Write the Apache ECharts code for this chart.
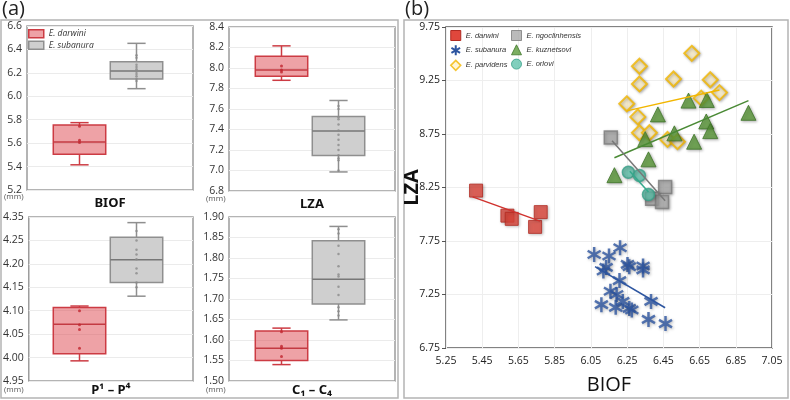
<!DOCTYPE html>
<html>
<head>
<meta charset="utf-8">
<script src="https://cdn.jsdelivr.net/npm/echarts@6/dist/echarts.min.js"></script>
<style>
html, body { margin: 0; padding: 0; background: #fff; }
#main { width: 790px; height: 400px; }
</style>
</head>
<body>
<div id="main"></div>
<script>
// ---- panel (a): box plots, [min, Q1, median, Q3, max] ----
var boxSpecies = ['E. darwini', 'E. subanura'];
var biofBox = [[5.415, 5.505, 5.61, 5.755, 5.775], [6.065, 6.148, 6.216, 6.295, 6.452]];
var lzaBox = [[7.88, 7.92, 7.98, 8.115, 8.216], [6.986, 7.147, 7.386, 7.526, 7.683]];
var pBox = [[3.993, 4.008, 4.071, 4.107, 4.110], [4.131, 4.16, 4.209, 4.257, 4.288]];
var cBox = [[1.540, 1.550, 1.580, 1.622, 1.629], [1.649, 1.688, 1.748, 1.842, 1.877]];

// individual specimens drawn inside the boxes
var biofDots = [[5.745, 5.625, 5.605], [6.35, 6.33, 6.27, 6.25, 6.23, 6.21, 6.19, 6.17, 6.15, 6.13]];
var lzaDots = [[8.02, 7.98, 7.96], [7.63, 7.6, 7.52, 7.5, 7.45, 7.39, 7.35, 7.3, 7.25, 7.2, 7.15, 7.12, 7.1, 7.0]];
var pDots = [[4.10, 4.07, 4.06, 4.02], [4.27, 4.25, 4.23, 4.22, 4.21, 4.19, 4.18, 4.16, 4.15]];
var cDots = [[1.62, 1.585, 1.58, 1.56], [1.87, 1.86, 1.83, 1.81, 1.78, 1.76, 1.755, 1.73, 1.71, 1.68, 1.67, 1.66]];

// tick labels of the P1-P4 panel, as printed
var pTicks = ['4.95', '4.00', '4.05', '4.10', '4.15', '4.20', '4.25', '4.35'];

// ---- panel (b): scatter BIOF vs LZA ----
var darwiniPts = [[5.416, 8.221], [5.589, 7.987], [5.613, 7.957], [5.742, 7.882], [5.773, 8.02]];
var subanuraPts = [[6.068, 7.624], [6.15, 7.61], [6.211, 7.687], [6.134, 7.503], [6.119, 7.47], [6.252, 7.531],
    [6.262, 7.51], [6.338, 7.516], [6.338, 7.48], [6.208, 7.38], [6.158, 7.28], [6.192, 7.25], [6.108, 7.155],
    [6.187, 7.13], [6.226, 7.185], [6.262, 7.12], [6.276, 7.105], [6.382, 7.185], [6.368, 7.017], [6.462, 6.978]];
var parvidensPts = [[6.607, 9.504], [6.318, 9.383], [6.318, 9.218], [6.506, 9.264], [6.709, 9.257], [6.76, 9.137],
    [6.659, 9.085], [6.248, 9.032], [6.309, 8.91], [6.318, 8.762], [6.373, 8.762], [6.473, 8.699], [6.528, 8.678]];
var kuznetsoviPts = [[6.589, 9.062], [6.69, 9.068], [6.42, 8.933], [6.92, 8.948], [6.687, 8.867], [6.709, 8.777],
    [6.511, 8.756], [6.35, 8.702], [6.62, 8.678], [6.368, 8.513], [6.18, 8.365]];
var ngoclinPts = [[6.16, 8.717], [6.46, 8.254], [6.388, 8.144], [6.443, 8.114]];
var orloviPts = [[6.257, 8.392], [6.318, 8.363], [6.368, 8.185]];

// regression lines (end points)
var darwiniFit = [[5.397, 8.162], [5.769, 7.936]];
var subanuraFit = [[6.073, 7.51], [6.46, 7.126]];
var parvidensFit = [[6.248, 8.966], [6.76, 9.162]];
var kuznetsoviFit = [[6.18, 8.528], [6.92, 9.062]];
var ngoclinFit = [[6.167, 8.687], [6.46, 8.126]];
var orloviFit = [[6.265, 8.401], [6.368, 8.207]];

var FONT = 'Open Sans';
var redFill = 'rgba(222,70,78,0.5)', redLine = '#cc3b43';
var grayFill = '#cfcfcf', grayLine = '#8f8f8f';
var starPath = 'path://M0,-10L0,10M-8.66,-5L8.66,5M-8.66,5L8.66,-5';

var chart = echarts.init(document.getElementById('main'));

// subplot frames and the narrower grids that hold the boxes
var panels = [
    {title: 'BIOF', left: 27, top: 26, box: biofBox, dots: biofDots, min: 5.2, max: 6.6, step: 0.2, dec: 1, gap: 7},
    {title: 'LZA', left: 229, top: 27, box: lzaBox, dots: lzaDots, min: 6.8, max: 8.4, step: 0.2, dec: 1, gap: 7},
    {title: 'P\u00b9 \u2013 P\u2074', left: 27, top: 217, box: pBox, dots: pDots, min: 3.95, max: 4.30, step: 0.05, dec: 2, gap: 3, ticks: pTicks},
    {title: 'C\u2081 \u2013 C\u2084', left: 229, top: 217, box: cBox, dots: cDots, min: 1.50, max: 1.90, step: 0.05, dec: 2, gap: 3}
];

var grids = [], xAxes = [], yAxes = [], series = [];

function boxSeries(name, gi, item, fill, stroke, mid) {
    return {
        name: name,
        type: 'custom',
        xAxisIndex: gi,
        yAxisIndex: gi,
        itemStyle: {color: fill, borderColor: stroke},
        data: [item],
        renderItem: function (params, api) {
            var i = api.value(0);
            var pMin = api.coord([i, api.value(1)]);
            var pQ1 = api.coord([i, api.value(2)]);
            var pMed = api.coord([i, api.value(3)]);
            var pQ3 = api.coord([i, api.value(4)]);
            var pMax = api.coord([i, api.value(5)]);
            var band = api.size([1, 0])[0];
            var w = band * 0.92, cap = band * 0.32;
            var x = pMed[0];
            var ls = {stroke: stroke, lineWidth: 1.5};
            return {
                type: 'group',
                children: [
                    {type: 'line', shape: {x1: x, y1: pQ3[1], x2: x, y2: pMax[1]}, style: ls},
                    {type: 'line', shape: {x1: x - cap / 2, y1: pMax[1], x2: x + cap / 2, y2: pMax[1]}, style: ls},
                    {type: 'line', shape: {x1: x, y1: pQ1[1], x2: x, y2: pMin[1]}, style: ls},
                    {type: 'line', shape: {x1: x - cap / 2, y1: pMin[1], x2: x + cap / 2, y2: pMin[1]}, style: ls},
                    {type: 'rect', shape: {x: x - w / 2, y: pQ3[1], width: w, height: pQ1[1] - pQ3[1]},
                        style: {fill: fill, stroke: stroke, lineWidth: 1.5}},
                    {type: 'line', shape: {x1: x - w / 2, y1: pMed[1], x2: x + w / 2, y2: pMed[1]},
                        style: {stroke: mid, lineWidth: 1.5}}
                ]
            };
        }
    };
}

panels.forEach(function (p, k) {
    var fi = k * 2, bi = k * 2 + 1;
    var h = 164;
    grids.push({left: p.left, top: p.top, width: 166, height: h, show: true,
        borderColor: '#9c9c9c', borderWidth: 1.5, backgroundColor: 'transparent'});
    grids.push({left: p.left + 24, top: p.top, width: 114, height: h});
    xAxes.push({gridIndex: fi, type: 'value', min: 0, max: 1,
        axisLine: {show: false}, axisTick: {show: false}, axisLabel: {show: false}, splitLine: {show: false},
        name: p.title, nameLocation: 'middle', nameGap: p.gap,
        nameTextStyle: {fontSize: 13, fontWeight: 'bold', color: '#111', fontFamily: 'Noto Sans'}});
    xAxes.push({gridIndex: bi, type: 'category', data: boxSpecies, show: false});
    yAxes.push({gridIndex: fi, type: 'value', min: p.min, max: p.max, interval: p.step,
        axisLine: {show: false}, axisTick: {show: false},
        axisLabel: {fontSize: 10.5, color: '#333', fontFamily: FONT, margin: 5,
            formatter: function (v, i) { return p.ticks ? p.ticks[i] : v.toFixed(p.dec); }},
        splitLine: {lineStyle: {color: '#ebebeb', width: 1}}});
    yAxes.push({gridIndex: bi, type: 'value', min: p.min, max: p.max, show: false});

    series.push(boxSeries('E. darwini', bi, [0].concat(p.box[0]), redFill, redLine, '#c33a42'));
    series.push(boxSeries('E. subanura', bi, [1].concat(p.box[1]), grayFill, grayLine, '#777'));
    series.push({type: 'scatter', xAxisIndex: bi, yAxisIndex: bi, symbolSize: 3, silent: true,
        itemStyle: {color: '#c0262e'}, data: p.dots[0].map(function (v) { return [0, v]; })});
    series.push({type: 'scatter', xAxisIndex: bi, yAxisIndex: bi, symbolSize: 2.5, silent: true,
        itemStyle: {color: '#8a8a8a'}, data: p.dots[1].map(function (v) { return [1, v]; })});
});

// scatter grid (index 8)
grids.push({left: 446, top: 27, width: 326, height: 333, show: true,
    borderColor: '#5a5a5a', borderWidth: 1.5, backgroundColor: 'transparent'});
xAxes.push({gridIndex: 8, type: 'value', min: 5.25, max: 7.05, interval: 0.2,
    axisLine: {show: false}, axisTick: {show: false},
    axisLabel: {fontSize: 10.5, color: '#222', fontFamily: FONT, margin: 8,
        formatter: function (v) { return v.toFixed(2); }},
    splitLine: {lineStyle: {color: '#eeeeee'}},
    name: 'BIOF', nameLocation: 'middle', nameGap: 27, nameMoveOverlap: false,
    nameTextStyle: {fontSize: 20, color: '#111', fontFamily: FONT}});
yAxes.push({gridIndex: 8, type: 'value', min: 6.75, max: 9.75, interval: 0.5,
    axisLine: {show: false}, axisTick: {show: true, length: 4, lineStyle: {color: '#555'}},
    axisLabel: {fontSize: 10.5, color: '#222', fontFamily: FONT, margin: 6,
        formatter: function (v) { return v.toFixed(2); }},
    splitLine: {lineStyle: {color: '#eeeeee'}},
    name: 'LZA', nameLocation: 'middle', nameGap: 24, nameMoveOverlap: false,
    nameTextStyle: {fontSize: 20, fontWeight: 'bold', color: '#111', fontFamily: FONT}});

var shadow = {shadowBlur: 3, shadowColor: 'rgba(0,0,0,0.35)', shadowOffsetX: 1, shadowOffsetY: 1};

function pts(name, data, symbol, size, style) {
    return {name: name, type: 'scatter', xAxisIndex: 8, yAxisIndex: 8, symbol: symbol, symbolSize: size,
        symbolKeepAspect: true, itemStyle: Object.assign({}, shadow, style), data: data};
}
function fit(data, color) {
    return {type: 'line', xAxisIndex: 8, yAxisIndex: 8, data: data, symbol: 'none', silent: true,
        lineStyle: {color: color, width: 1.5}, z: 3};
}

series.push(pts('E. darwini', darwiniPts, 'rect', 13, {color: '#e0473c', borderColor: '#b02a22', borderWidth: 1}));
series.push(pts('E. subanura', subanuraPts, starPath, 15, {color: '#2d55a0', borderColor: '#2d55a0', borderWidth: 2.5}));
series.push(pts('E. parvidens', parvidensPts, 'diamond', 15, {color: '#fff2cc', borderColor: '#f2b600', borderWidth: 2}));
series.push(pts('E. ngoclinhensis', ngoclinPts, 'rect', 13, {color: '#a9a9a9', borderColor: '#7c7c7c', borderWidth: 1.5}));
series.push(pts('E. kuznetsovi', kuznetsoviPts, 'triangle', 15, {color: '#5b9a3a', borderColor: '#3f7628', borderWidth: 1}));
series.push(pts('E. orlovi', orloviPts, 'circle', 12, {color: '#62c3ad', borderColor: '#38a088', borderWidth: 1.5}));
series.push(fit(darwiniFit, '#d0312d'));
series.push(fit(subanuraFit, '#2d55a0'));
series.push(fit(parvidensFit, '#f2b600'));
series.push(fit(kuznetsoviFit, '#4a8a35'));
series.push(fit(ngoclinFit, '#777777'));
series.push(fit(orloviFit, '#35a88c'));

var boxLegendText = {fontSize: 8.5, fontStyle: 'italic', color: '#333', fontFamily: FONT};
var scatLegendText = {fontSize: 7.5, fontStyle: 'italic', color: '#333', fontFamily: 'Liberation Sans'};

var option = {
    animation: false,
    backgroundColor: '#fff',
    grid: grids,
    xAxis: xAxes,
    yAxis: yAxes,
    series: series,
    legend: [
        {left: 28, top: 29, orient: 'vertical', padding: 0, itemWidth: 15, itemHeight: 8, itemGap: 2,
            textStyle: boxLegendText,
            data: [
                {name: 'E. darwini', icon: 'rect', itemStyle: {color: redFill, borderColor: redLine, borderWidth: 1.5}},
                {name: 'E. subanura', icon: 'rect', itemStyle: {color: grayFill, borderColor: grayLine, borderWidth: 1.5}}
            ]},
        {left: 450, top: 30, orient: 'vertical', padding: 0, itemWidth: 10, itemHeight: 10, itemGap: 3.3,
            itemTextGap: 3, textStyle: scatLegendText,
            data: [
                {name: 'E. darwini', icon: 'rect', itemStyle: {color: '#e0473c', borderColor: '#b02a22', borderWidth: 1}},
                {name: 'E. subanura', icon: starPath, itemStyle: {color: '#2d55a0', borderColor: '#2d55a0', borderWidth: 2}},
                {name: 'E. parvidens', icon: 'diamond', itemStyle: {color: '#fff2cc', borderColor: '#f2b600', borderWidth: 1.5}}
            ]},
        {left: 511, top: 30, orient: 'vertical', padding: 0, itemWidth: 10, itemHeight: 10, itemGap: 3.3,
            itemTextGap: 3, textStyle: scatLegendText,
            data: [
                {name: 'E. ngoclinhensis', icon: 'rect', itemStyle: {color: '#a9a9a9', borderColor: '#7c7c7c', borderWidth: 1}},
                {name: 'E. kuznetsovi', icon: 'triangle', itemStyle: {color: '#5b9a3a', borderColor: '#3f7628', borderWidth: 1}},
                {name: 'E. orlovi', icon: 'circle', itemStyle: {color: '#62c3ad', borderColor: '#38a088', borderWidth: 1}}
            ]}
    ],
    graphic: [
        {type: 'rect', shape: {x: 1, y: 20, width: 397, height: 378}, style: {fill: 'none', stroke: '#b4b4b4', lineWidth: 1.5}, z: -1},
        {type: 'rect', shape: {x: 404, y: 20, width: 384, height: 378}, style: {fill: 'none', stroke: '#b4b4b4', lineWidth: 1.5}, z: -1},
        {type: 'text', left: 2, top: -1, style: {text: '(a)', fontSize: 20, fill: '#222', fontFamily: FONT}},
        {type: 'text', left: 405, top: -1, style: {text: '(b)', fontSize: 20, fill: '#222', fontFamily: FONT}},
        {type: 'text', left: 4, top: 193, style: {text: '(mm)', fontSize: 8, fill: '#555', fontFamily: FONT}},
        {type: 'text', left: 206, top: 195, style: {text: '(mm)', fontSize: 8, fill: '#555', fontFamily: FONT}},
        {type: 'text', left: 4, top: 386, style: {text: '(mm)', fontSize: 8, fill: '#555', fontFamily: FONT}},
        {type: 'text', left: 206, top: 386, style: {text: '(mm)', fontSize: 8, fill: '#555', fontFamily: FONT}}
    ]
};

chart.setOption(option);
</script>
</body>
</html>
